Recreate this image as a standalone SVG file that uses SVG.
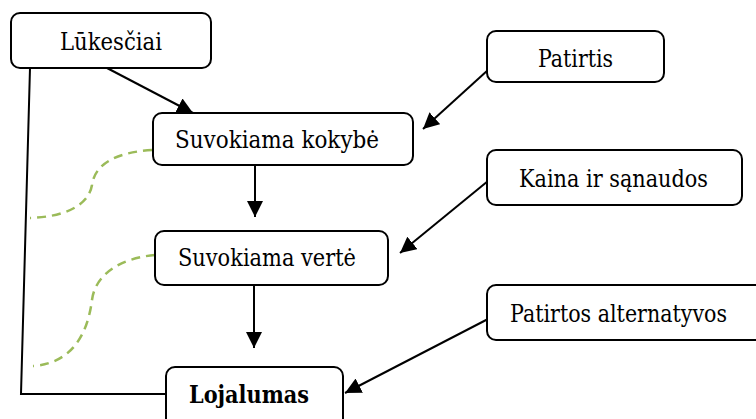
<svg xmlns="http://www.w3.org/2000/svg" width="756" height="419" viewBox="0 0 756 419">
  <style>
    .box { fill: #ffffff; stroke: #000000; stroke-width: 2; }
    .lbl { font-family: "DejaVu Serif", serif; font-size: 25px; fill: #000000; }
    .bold { font-weight: bold; }
    .edge { fill: none; stroke: #000000; stroke-width: 2; }
    .link { fill: none; stroke: #9bbb59; stroke-width: 2.5; stroke-dasharray: 9 6; }
  </style>
  <defs>
    <marker id="arrow" viewBox="0 0 10 10" refX="10" refY="5" markerWidth="8" markerHeight="8" markerUnits="strokeWidth" orient="auto">
      <path d="M0,0 L10,5 L0,10 Z" fill="#000000"/>
    </marker>
  </defs>

  <!-- connectors -->
  <g id="connectors">
    <line class="edge" x1="107" y1="68" x2="193" y2="113" marker-end="url(#arrow)"/>
    <line class="edge" x1="255" y1="165" x2="255" y2="217" marker-end="url(#arrow)"/>
    <line class="edge" x1="254" y1="285" x2="254" y2="348" marker-end="url(#arrow)"/>
    <line class="edge" x1="488" y1="70" x2="423" y2="129" marker-end="url(#arrow)"/>
    <line class="edge" x1="488" y1="181" x2="400" y2="253" marker-end="url(#arrow)"/>
    <line class="edge" x1="488" y1="319" x2="345" y2="393" marker-end="url(#arrow)"/>
    <polyline class="edge" points="30,68 21,394 166,394"/>
    <path class="link" d="M152,150 C120,152 95,162 92,185 C88,208 60,217 30,218"/>
    <path class="link" d="M155,255 C120,258 95,275 92,300 C88,330 75,363 33,366"/>
  </g>

  <g id="lukesciai">
    <rect class="box" x="11" y="13" width="200" height="55" rx="9"/>
    <text class="lbl" x="60" y="50" textLength="102" lengthAdjust="spacingAndGlyphs">Lūkesčiai</text>
  </g>

  <g id="patirtis">
    <rect class="box" x="487" y="31" width="177" height="51" rx="9"/>
    <text class="lbl" x="538" y="67" textLength="75" lengthAdjust="spacingAndGlyphs">Patirtis</text>
  </g>

  <g id="suvokiama-kokybe">
    <rect class="box" x="153" y="113" width="260" height="52" rx="9"/>
    <text class="lbl" x="175" y="148" textLength="204" lengthAdjust="spacingAndGlyphs">Suvokiama kokybė</text>
  </g>

  <g id="kaina">
    <rect class="box" x="487" y="150" width="255" height="55" rx="9"/>
    <text class="lbl" x="519" y="187" textLength="189" lengthAdjust="spacingAndGlyphs">Kaina ir sąnaudos</text>
  </g>

  <g id="suvokiama-verte">
    <rect class="box" x="155" y="231" width="233" height="54" rx="9"/>
    <text class="lbl" x="178" y="266" textLength="178" lengthAdjust="spacingAndGlyphs">Suvokiama vertė</text>
  </g>

  <g id="patirtos-alternatyvos">
    <rect class="box" x="487" y="285" width="290" height="55" rx="9"/>
    <text class="lbl" x="510" y="322" textLength="217" lengthAdjust="spacingAndGlyphs">Patirtos alternatyvos</text>
  </g>

  <g id="lojalumas">
    <rect class="box" x="166" y="367" width="177" height="60" rx="9"/>
    <text class="lbl bold" x="189" y="403" textLength="120" lengthAdjust="spacingAndGlyphs">Lojalumas</text>
  </g>
</svg>
